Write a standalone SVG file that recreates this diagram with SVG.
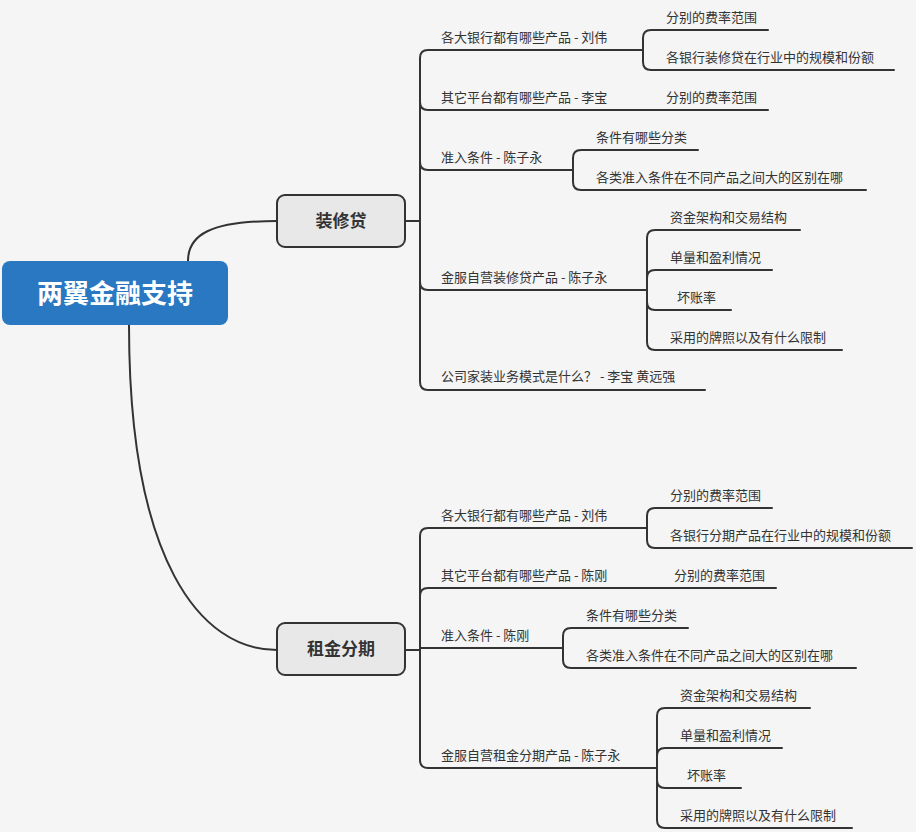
<svg xmlns="http://www.w3.org/2000/svg" width="916" height="832" viewBox="0 0 916 832">
<style>
.l{fill:none;stroke:#333;stroke-width:2;stroke-linecap:round}
.t{font-family:"Noto Sans CJK SC","Liberation Sans",sans-serif;font-size:13px;fill:#333}
.n{fill:#e8e8e8;stroke:#333;stroke-width:2}
.nt{font-family:"Noto Sans CJK SC","Liberation Sans",sans-serif;font-size:17px;font-weight:bold;fill:#333;text-anchor:middle}
</style>
<rect width="916" height="832" fill="#f5f5f5"/>
<g id="connectors">
<path class="l" d="M188,261 C188,235 210,221 277,221"/>
<path class="l" d="M129,325 C129,560 200,650 277,650"/>
<path class="l" d="M405,221 H420"/>
<path class="l" d="M420,221 V58 Q420,50 428,50 H628 M420,221 V102 Q420,110 428,110 H628 M420,221 V162 Q420,170 428,170 H558 M420,221 V282 Q420,290 428,290 H632 M420,221 V382 Q420,390 428,390 H705"/>
<path class="l" d="M628,50 H643 M643,50 V38 Q643,30 651,30 H768 M643,50 V62 Q643,70 651,70 H894"/>
<path class="l" d="M628,110 H768"/>
<path class="l" d="M558,170 H573 M573,170 V158 Q573,150 581,150 H698 M573,170 V182 Q573,190 581,190 H866"/>
<path class="l" d="M632,290 H647 M647,290 V238 Q647,230 655,230 H800 M647,290 V278 Q647,270 655,270 H772 M647,290 V302 Q647,310 655,310 H731 M647,290 V342 Q647,350 655,350 H842"/>
<path class="l" d="M405,650 H420"/>
<path class="l" d="M420,650 V536 Q420,528 428,528 H632 M420,650 V596 Q420,588 428,588 H636 M420,650 V648 H548 M420,650 V760 Q420,768 428,768 H642"/>
<path class="l" d="M632,528 H647 M647,528 V516 Q647,508 655,508 H772 M647,528 V540 Q647,548 655,548 H912"/>
<path class="l" d="M636,588 H776"/>
<path class="l" d="M548,648 H563 M563,648 V636 Q563,628 571,628 H688 M563,648 V660 Q563,668 571,668 H856"/>
<path class="l" d="M642,768 H657 M657,768 V716 Q657,708 665,708 H810 M657,768 V756 Q657,748 665,748 H782 M657,768 V780 Q657,788 665,788 H741 M657,768 V820 Q657,828 665,828 H852"/>
</g>
<g id="root"><rect x="2" y="261" width="226" height="64" rx="8" fill="#2a78c2"/><text x="115" y="303" font-family="Noto Sans CJK SC,sans-serif" font-size="26" font-weight="bold" fill="#fff" text-anchor="middle">两翼金融支持</text></g>
<g id="n1"><rect class="n" x="277" y="195" width="128" height="52" rx="8"/><text class="nt" x="341" y="227">装修贷</text></g>
<g id="n2"><rect class="n" x="277" y="623" width="128" height="52" rx="8"/><text class="nt" x="341" y="655">租金分期</text></g>
<g id="labels">
<text class="t" x="441" y="42">各大银行都有哪些产品 - 刘伟</text>
<text class="t" x="666" y="22">分别的费率范围</text>
<text class="t" x="666" y="62">各银行装修贷在行业中的规模和份额</text>
<text class="t" x="441" y="102">其它平台都有哪些产品 - 李宝</text>
<text class="t" x="666" y="102">分别的费率范围</text>
<text class="t" x="441" y="162">准入条件 - 陈子永</text>
<text class="t" x="596" y="142">条件有哪些分类</text>
<text class="t" x="596" y="182">各类准入条件在不同产品之间大的区别在哪</text>
<text class="t" x="441" y="282">金服自营装修贷产品 -  陈子永</text>
<text class="t" x="670" y="222">资金架构和交易结构</text>
<text class="t" x="670" y="262">单量和盈利情况</text>
<text class="t" x="677" y="302">坏账率</text>
<text class="t" x="670" y="342">采用的牌照以及有什么限制</text>
<text class="t" x="441" y="381">公司家装业务模式是什么？ -  李宝 黄远强</text>
<text class="t" x="441" y="520">各大银行都有哪些产品  - 刘伟</text>
<text class="t" x="670" y="500">分别的费率范围</text>
<text class="t" x="670" y="540">各银行分期产品在行业中的规模和份额</text>
<text class="t" x="441" y="580">其它平台都有哪些产品  -  陈刚</text>
<text class="t" x="674" y="580">分别的费率范围</text>
<text class="t" x="441" y="640">准入条件  - 陈刚</text>
<text class="t" x="586" y="620">条件有哪些分类</text>
<text class="t" x="586" y="660">各类准入条件在不同产品之间大的区别在哪</text>
<text class="t" x="441" y="760">金服自营租金分期产品 - 陈子永</text>
<text class="t" x="680" y="700">资金架构和交易结构</text>
<text class="t" x="680" y="740">单量和盈利情况</text>
<text class="t" x="687" y="780">坏账率</text>
<text class="t" x="680" y="820">采用的牌照以及有什么限制</text>
</g>
</svg>
